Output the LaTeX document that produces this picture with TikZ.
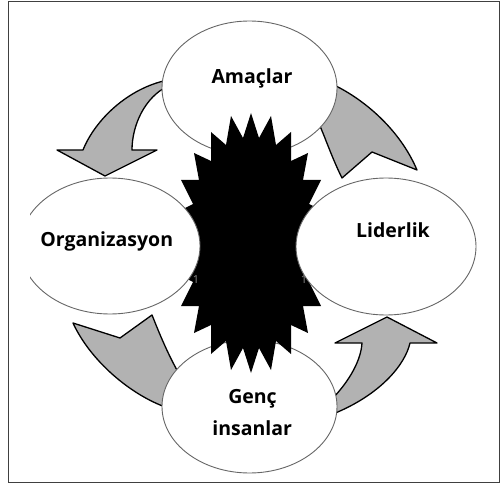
\documentclass[tikz,border=0pt]{standalone}
\usepackage{fontspec}
\setmainfont{Open Sans}
\usetikzlibrary{shapes.geometric}
\begin{document}
\begin{tikzpicture}[x=1pt,y=-1pt,
  ell/.style={draw=black!60, line width=0.9pt, fill=white, shape=ellipse, inner sep=0pt},
  arr/.style={draw=black, line width=1.3pt, fill=black!30, line join=round},
  lbl/.style={font=\bfseries\fontsize{19.5}{22}\selectfont, anchor=base, inner sep=0pt},
  ghost/.style={text=black!45, font=\fontsize{11}{11}\selectfont, inner sep=0pt}]
\useasboundingbox (0,0) rectangle (501,484);
\draw[black!75, line width=1pt] (8.5,1.5) rectangle (499.5,482.5);
% arrows
\draw[arr] (168,80) .. controls (128,88) and (95,120) .. (83,150) -- (57,150) -- (105,176) -- (157,150) -- (132,150) .. controls (132,125) and (145,97) .. (168,86) -- cycle;
\draw[arr] (334,85) .. controls (365,100) and (400,130) .. (417,170) -- (372,152) -- (342,178) .. controls (333,160) and (326,140) .. (320,126) -- (312,110) -- cycle;
\draw[arr] (73,323) -- (120,338) -- (152,315) .. controls (160,335) and (167,352) .. (178,372) -- (182,395) -- (168,408) .. controls (130,395) and (90,360) .. (73,323) -- cycle;
\draw[arr] (387,317) -- (437,343) -- (410,343) .. controls (405,365) and (380,395) .. (333,414) -- (326,408) -- (326,398) -- (333,398) .. controls (350,380) and (361,360) .. (362,343) -- (335,343) -- cycle;
% top and bottom ellipses
\node[ell, minimum width=175pt, minimum height=134pt] (amac) at (249.5,88) {};
\node[ell, minimum width=175pt, minimum height=133pt] (genc) at (249.5,406.5) {};
% starburst
\fill[black] (251,113) -- (259,138) -- (271,116) -- (276,145) -- (291,132) -- (291,161) -- (308,153) -- (303,180) -- (321,180) -- (309,204) -- (323,211) -- (310,230) -- (323,243) -- (310,256) -- (323,275) -- (309,282) -- (321,306) -- (303,306) -- (308,333) -- (291,325) -- (291,354) -- (276,341) -- (271,370) -- (259,348) -- (251,373) -- (243,348) -- (231,370) -- (226,341) -- (211,354) -- (211,325) -- (194,333) -- (199,306) -- (181,306) -- (193,282) -- (179,275) -- (192,256) -- (179,243) -- (192,230) -- (179,211) -- (193,204) -- (181,180) -- (199,180) -- (194,153) -- (211,161) -- (211,132) -- (226,145) -- (231,116) -- (243,138) -- cycle;
% side ellipses
\begin{scope}
\clip (30,100) rectangle (300,400);
\node[ell, minimum width=180pt, minimum height=136pt] (org) at (110,246) {};
\end{scope}
\node[ell, minimum width=180pt, minimum height=137pt] (lid) at (386,246.5) {};
% labels
\node[lbl] (tAmac) at (252,83.5) {Amaçlar};
\node[lbl] (tOrg) at (106.7,246.5) {Organizasyon};
\node[lbl] (tLid) at (393,237) {Liderlik};
\node[lbl] (tGenc) at (252.5,403) {Genç};
\node[lbl] (tIns) at (252.2,435) {insanlar};
\node[ghost] (g1) at (196,280) {1};
\node[ghost] (g2) at (304,280) {1};
\end{tikzpicture}
\end{document}
